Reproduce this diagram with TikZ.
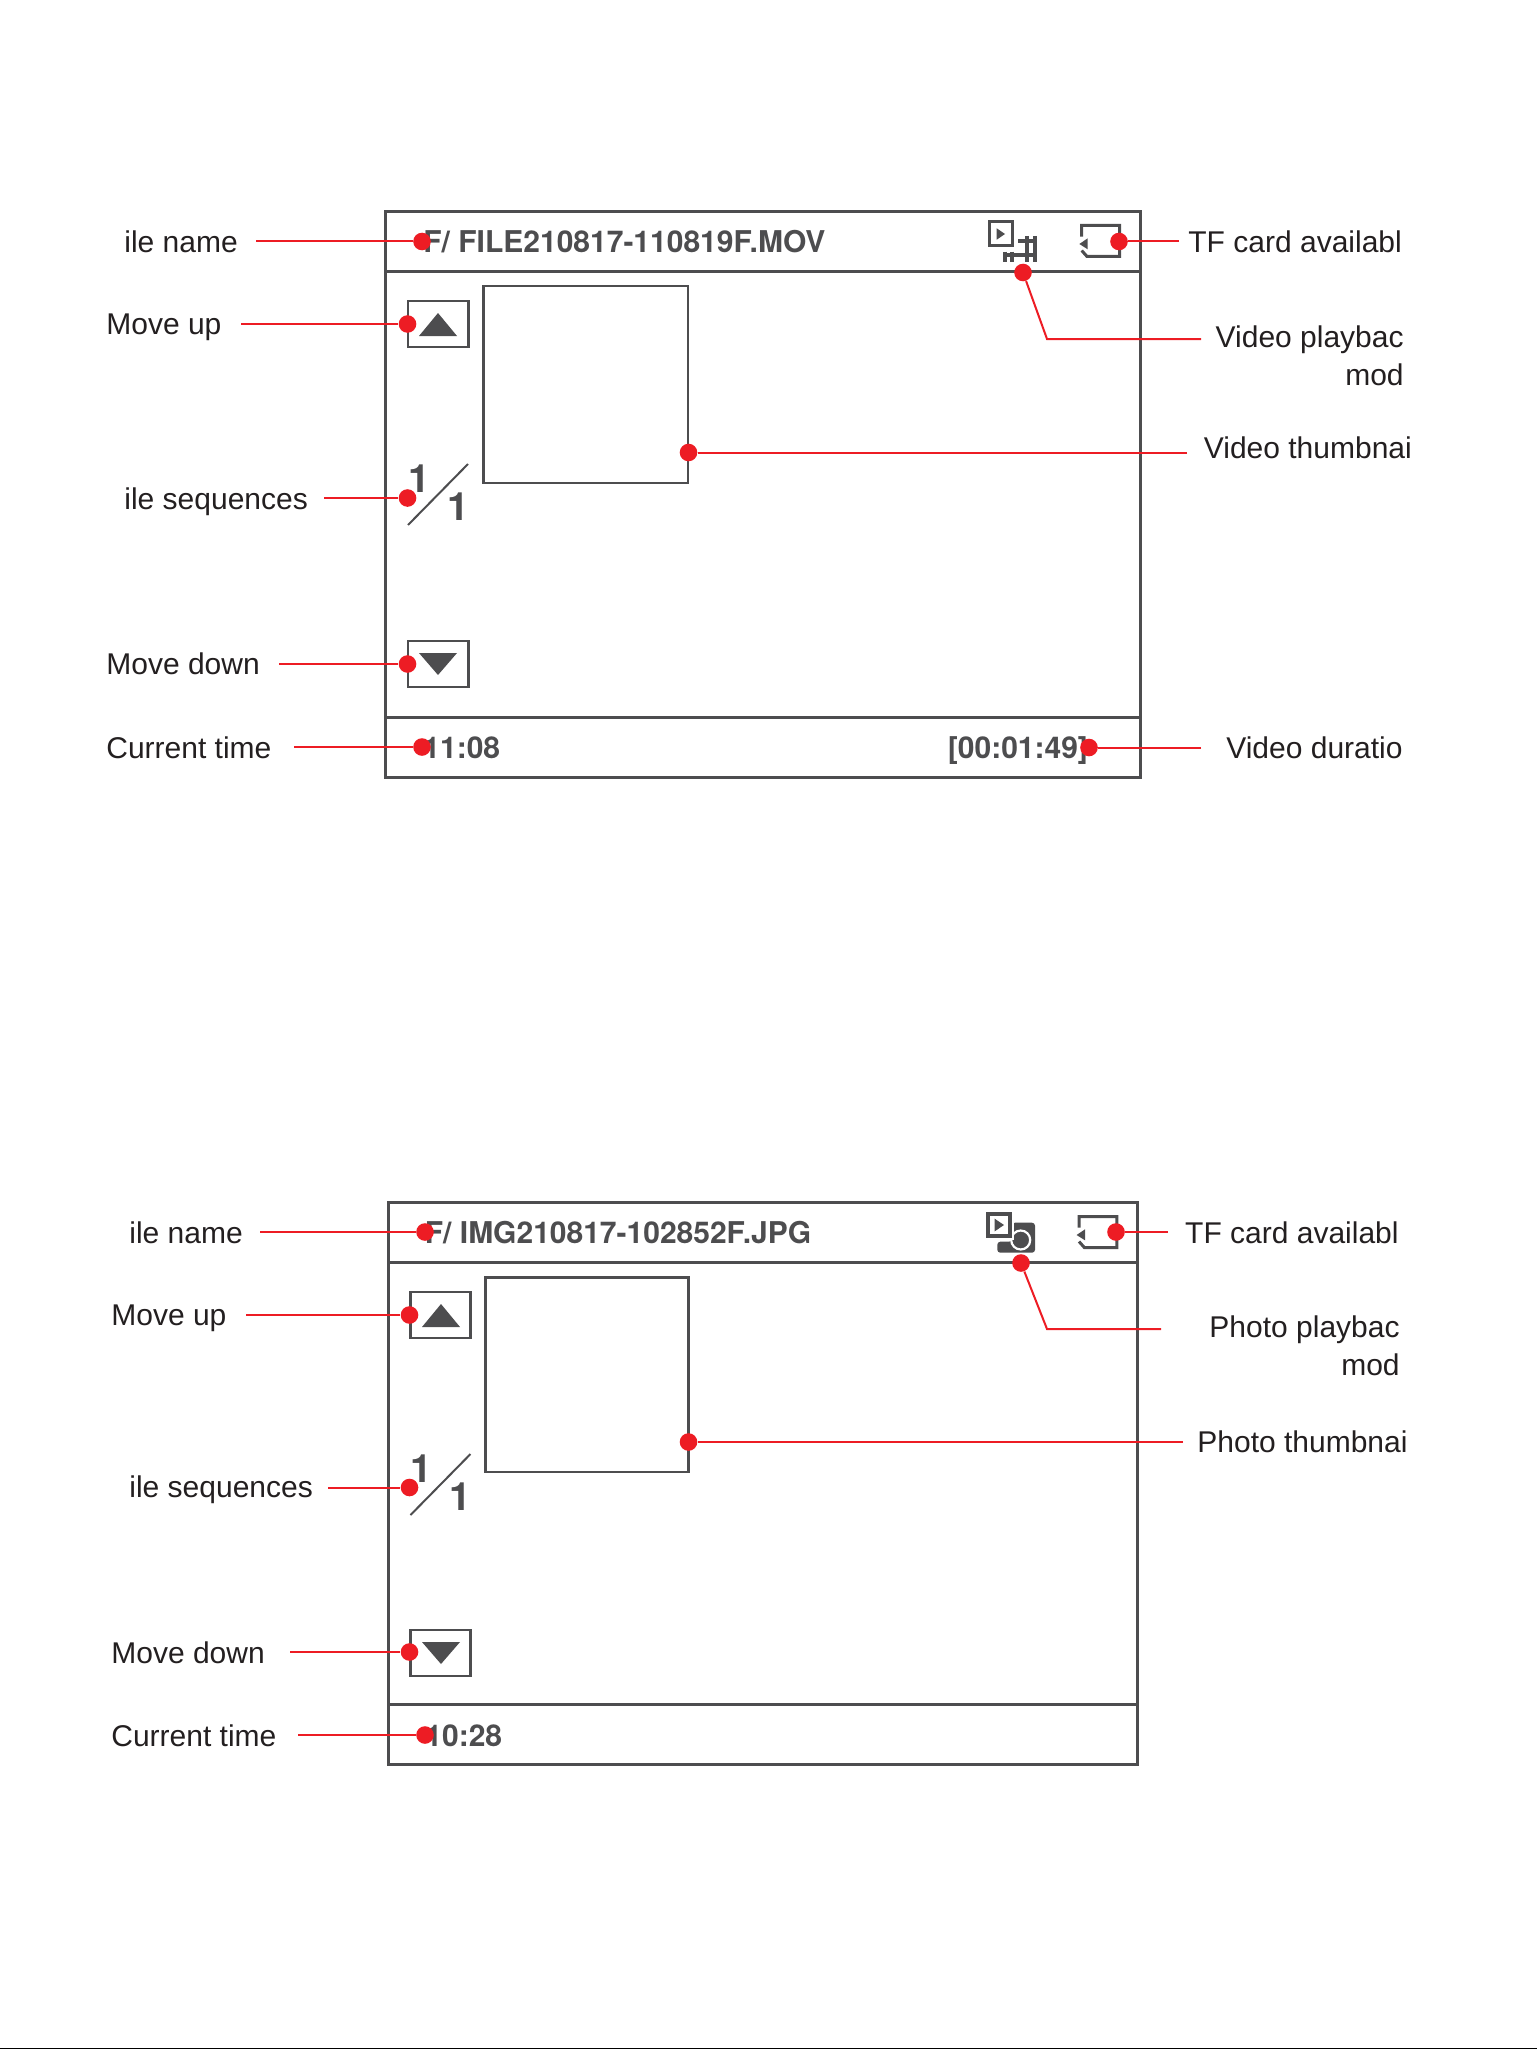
\documentclass[tikz,border=0pt]{standalone}
\usepackage{fontspec}
\setmainfont{Liberation Sans}
\newfontfamily\screenfont{TeX Gyre Heros}
\usepackage{tikz}
\definecolor{ScreenGray}{HTML}{4D4D4F}
\definecolor{LabelBlack}{HTML}{231F20}
\definecolor{DotRed}{HTML}{ED1C24}
\tikzset{
  frameline/.style={draw=ScreenGray, line width=1.5pt},
  thinframe/.style={draw=ScreenGray, line width=1.25pt},
  leader/.style={draw=DotRed, line width=1pt},
  reddot/.style={circle, fill=DotRed, inner sep=0pt, minimum size=8.8pt},
  lbl/.style={font=\fontsize{15}{19}\selectfont, text=LabelBlack, inner sep=0pt},
  screentxt/.style={font=\screenfont\fontsize{15}{19}\selectfont\bfseries, text=ScreenGray, inner sep=0pt, anchor=base west},
  seqtxt/.style={font=\screenfont\fontsize{19.5}{20}\selectfont\bfseries, text=ScreenGray, inner sep=0pt},
  tficon/.pic={
    \draw[frameline, line join=miter] (1081.7,236.7) -- (1081.7,225.5) -- (1119.5,225.5) -- (1119.5,256.5)
      -- (1087,256.5) -- (1081.7,250.5);
    \fill[ScreenGray] (1079.3,244) -- (1087.7,238.3) -- (1087.7,249.3) -- cycle;
  },
}

\begin{document}
\begin{tikzpicture}[x=0.5pt, y=-0.5pt]
\useasboundingbox (0,0) rectangle (1537,2049);
% Page edge
\fill[black] (0,2048) rectangle (1537,2049);

% Video screen
\draw[frameline] (385.5,212) rectangle (1140,777);
\draw[frameline] (385.5,271.5) -- (1140,271.5);
\draw[frameline] (385.5,717) -- (1140,717);
\draw[thinframe] (483.5,286) rectangle (688,483);
\draw[thinframe] (408,301) rectangle (468.5,347);
\fill[ScreenGray] (438,313) -- (457,336) -- (419,336) -- cycle;
\draw[thinframe] (408,641) rectangle (468.5,687);
\fill[ScreenGray] (419,653) -- (457,653) -- (438,675) -- cycle;
\draw[ScreenGray, line width=1pt] (408,525) -- (468,464);
\node[seqtxt] (videoSeqA) at (419,479) {1};
\node[seqtxt] (videoSeqB) at (458,507) {1};
\node[screentxt] (videoFile) at (423,252) {F/ FILE210817-110819F.MOV};
\node[screentxt] (videoTime) at (423,758) {11:08};
\node[screentxt] (videoDur) at (947.5,758) {[00:01:49]};

% Video playback icon
\draw[ScreenGray, line width=1.35pt] (989.2,221.5) rectangle (1012.8,245.2);
\fill[ScreenGray] (996.7,228.3) -- (1005,234) -- (996.7,239.7) -- cycle;
\draw[ScreenGray, line width=1.9pt] (1003,255) -- (1036.7,255) (1018,240.7) -- (1036.7,240.7)
  (1026.7,236) -- (1026.7,261.7) (1035,236) -- (1035,261.7)
  (1005,251.7) -- (1005,261.7) (1012.3,251.7) -- (1012.3,261.7);
\pic {tficon};

% Photo screen
\draw[frameline] (388.5,1202.5) rectangle (1137.5,1764.5);
\draw[frameline] (388.5,1262.5) -- (1137.5,1262.5);
\draw[frameline] (388.5,1704.5) -- (1137.5,1704.5);
\draw[thinframe] (485.5,1277.5) rectangle (688.5,1472);
\draw[thinframe] (410.5,1292) rectangle (470.5,1338);
\fill[ScreenGray] (441,1304) -- (460,1327) -- (422,1327) -- cycle;
\draw[thinframe] (410.5,1630) rectangle (470.5,1676);
\fill[ScreenGray] (422,1642) -- (460,1642) -- (441,1664) -- cycle;
\draw[ScreenGray, line width=1pt] (410.5,1515) -- (470.5,1454);
\node[seqtxt] (photoSeqA) at (421,1469) {1};
\node[seqtxt] (photoSeqB) at (460,1497) {1};
\node[screentxt] (photoFile) at (424.5,1243) {F/ IMG210817-102852F.JPG};
\node[screentxt] (photoTime) at (425,1746) {10:28};

% Photo playback icon
\fill[ScreenGray, rounded corners=1.5pt] (997.3,1241.7) -- (1012,1241.7) -- (1012,1222.7) -- (1035,1222.7)
  -- (1035,1252.7) -- (997.3,1252.7) -- cycle;
\draw[white, line width=1.1pt] (1020.7,1240) circle[radius=9.5];
\fill[white] (985,1211) rectangle (1013.5,1239.5);
\draw[ScreenGray, line width=2pt] (988,1214) rectangle (1010,1236);
\fill[ScreenGray] (994.7,1218.7) -- (1004,1225) -- (994.7,1231.3) -- cycle;
\pic at (-2.7,991) {tficon};

% Left labels
\foreach \nm/\xx/\yy/\txt in {fileV/124/252/ile name, upV/106/334/Move up, seqV/124/509/ile sequences,
    downV/106/674/Move down, timeV/106/758/Current time,
    fileP/129/1243/ile name, upP/111/1325/Move up, seqP/129/1497/ile sequences,
    downP/111/1663/Move down, timeP/111/1746/Current time}
  \node[lbl, anchor=base west] (\nm) at (\xx,\yy) {\txt};

% Right labels
\node[lbl, anchor=base west] (cardV) at (1188,252) {TF card availabl};
\node[lbl, anchor=base east, align=right] (modeV) at (1404,385) {Video playbac\\mod};
\node[lbl, anchor=base west] (thumbV) at (1203.5,458) {Video thumbnai};
\node[lbl, anchor=base east] (durV) at (1403,758) {Video duratio};
\node[lbl, anchor=base east] (cardP) at (1399,1243) {TF card availabl};
\node[lbl, anchor=base east, align=right] (modeP) at (1400,1375) {Photo playbac\\mod};
\node[lbl, anchor=base west] (thumbP) at (1197,1452) {Photo thumbnai};

% Leaders, straight
\foreach \nm/\xa/\ya/\xb/\yb in {fileV/256/241.5/422/241.5, upV/241/324/407.5/324, seqV/324/498/407.5/498,
    downV/279/664/407.5/664, timeV/294/747/422/747, cardV/1179/241.5/1119/241.5,
    thumbV/1187/452.5/688.5/452.5, durV/1201/747.5/1089/747.5,
    fileP/260/1232/425/1232, upP/246/1315/409.5/1315, seqP/328/1487.5/409.5/1487.5,
    downP/290/1652/409.5/1652, timeP/298/1735/425/1735, cardP/1168/1232/1116/1232,
    thumbP/1183/1442/688.5/1442} {
  \coordinate (\nm end) at (\xa,\ya);
  \node[reddot] (\nm dot) at (\xb,\yb) {};
  \draw[leader] (\nm end) -- (\nm dot);
}

% Leaders, bent
\coordinate (modeVend) at (1201,339);
\coordinate (modeVbend) at (1047,339);
\node[reddot] (modeVdot) at (1023,272.5) {};
\draw[leader] (modeVend) -- (modeVbend) -- (modeVdot);
\coordinate (modePend) at (1161,1329);
\coordinate (modePbend) at (1047,1329);
\node[reddot] (modePdot) at (1021,1263) {};
\draw[leader] (modePend) -- (modePbend) -- (modePdot);

\end{tikzpicture}
\end{document}
